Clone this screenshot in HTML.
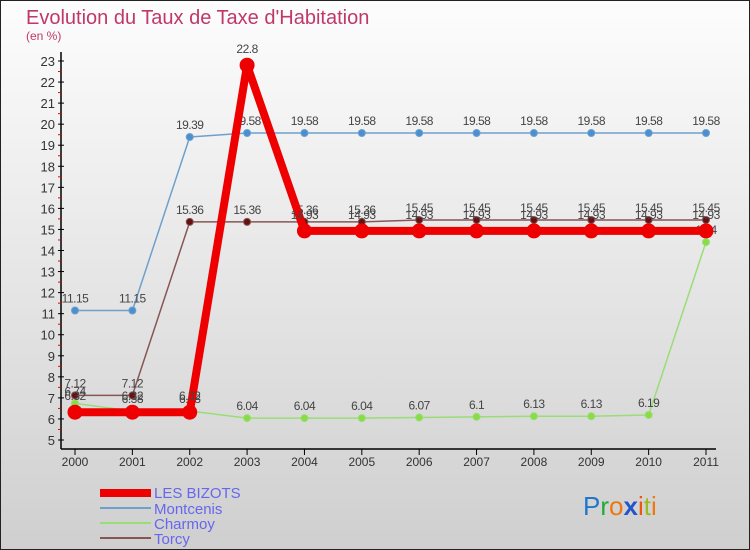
<!DOCTYPE html>
<html><head><meta charset="utf-8"><style>
body{margin:0;width:750px;height:550px;overflow:hidden}
svg{display:block;font-family:"Liberation Sans","DejaVu Sans",sans-serif}
</style></head><body>
<svg width="750" height="550" xmlns="http://www.w3.org/2000/svg">
<defs><linearGradient id="bg" x1="0" y1="0" x2="0" y2="1"><stop offset="0" stop-color="#fdfdfd"/><stop offset="1" stop-color="#cfcfcf"/></linearGradient></defs>
<rect x="0.5" y="0.5" width="749" height="549" fill="url(#bg)" stroke="#222"/>
<text x="26" y="24" font-size="20" fill="#c0386a">Evolution du Taux de Taxe d'Habitation</text>
<text x="26" y="40" font-size="12" fill="#c0386a">(en %)</text>
<g id="axes"></g>
<g id="series"></g>
<g>
<rect x="100" y="489" width="51" height="8" fill="#e00"/>
<text x="154" y="498" font-size="15" fill="#6666ee">LES BIZOTS</text>
<line x1="100" y1="508" x2="151" y2="508" stroke="#6fa0cc" stroke-width="2"/>
<text x="154" y="514" font-size="15" fill="#6666ee">Montcenis</text>
<line x1="100" y1="523" x2="151" y2="523" stroke="#99dd77" stroke-width="2"/>
<text x="154" y="529" font-size="15" fill="#6666ee">Charmoy</text>
<line x1="100" y1="538" x2="151" y2="538" stroke="#885555" stroke-width="2"/>
<text x="154" y="544" font-size="15" fill="#6666ee">Torcy</text>
</g>
<text x="583" y="515" font-size="26"><tspan fill="#2277cc">P</tspan><tspan fill="#22aa33">r</tspan><tspan fill="#ee7711">o</tspan><tspan fill="#2255cc" font-weight="bold">x</tspan><tspan fill="#ee5511">i</tspan><tspan fill="#99bb22">t</tspan><tspan fill="#ee7711">i</tspan></text>
</svg>
<script>
const years=[2000,2001,2002,2003,2004,2005,2006,2007,2008,2009,2010,2011];
const yTicks=[5,6,7,8,9,10,11,12,13,14,15,16,17,18,19,20,21,22,23];
const bizots=[6.32,6.32,6.32,22.8,14.93,14.93,14.93,14.93,14.93,14.93,14.93,14.93];
const montcenis=[11.15,11.15,19.39,19.58,19.58,19.58,19.58,19.58,19.58,19.58,19.58,19.58];
const charmoy=[6.74,6.38,6.38,6.04,6.04,6.04,6.07,6.1,6.13,6.13,6.19,14.4];
const torcy=[7.12,7.12,15.36,15.36,15.36,15.36,15.45,15.45,15.45,15.45,15.45,15.45];
const NS="http://www.w3.org/2000/svg";
const x=i=>75+i*(706-75)/(years.length-1);
const y=v=>440-(v-5)*(440-61)/18;
function mk(p,t,a){const e=document.createElementNS(NS,t);for(const k in a)e.setAttribute(k,a[k]);p.appendChild(e);return e;}
const ax=document.getElementById('axes');
mk(ax,'line',{x1:61,y1:52,x2:61,y2:449,stroke:'#000','stroke-width':1.5});
mk(ax,'line',{x1:61,y1:449,x2:716,y2:449,stroke:'#000','stroke-width':1.5});
yTicks.forEach(v=>{
 mk(ax,'line',{x1:58,y1:y(v),x2:64,y2:y(v),stroke:'#000'});
 if(v<23)mk(ax,'line',{x1:58,y1:y(v+0.5),x2:61,y2:y(v+0.5),stroke:'#e00'});
 const t=mk(ax,'text',{x:55,y:y(v)+5,'font-size':13,'text-anchor':'end',fill:'#333'});t.textContent=v;
 
 
});
years.forEach((yr,i)=>{
 mk(ax,'line',{x1:x(i),y1:449,x2:x(i),y2:455,stroke:'#000'});
 const t=mk(ax,'text',{x:x(i),y:466,'font-size':12,'text-anchor':'middle',fill:'#333'});t.textContent=yr;
 
 
});
const sg=document.getElementById('series');
function series(name,vals,color,w,r,dot,labDy){
 const g=mk(sg,'g',{});
 
 
 mk(g,'polyline',{points:vals.map((v,i)=>x(i)+','+y(v)).join(' '),fill:'none',stroke:color,'stroke-width':w,'stroke-linejoin':'round'});
 vals.forEach((v,i)=>{
  const c=mk(g,'circle',{cx:x(i),cy:y(v),r:r,fill:dot,stroke:color,'stroke-width':1});
  
  
  const t=mk(g,'text',{x:x(i),y:y(v)+labDy,'font-size':12,'text-anchor':'middle',fill:'#444','letter-spacing':'-0.5'});t.textContent=v;
  
  
 });
}
series('montcenis',montcenis,'#6fa0cc',1.5,3.5,'#4a8fd0',-8);
series('charmoy',charmoy,'#99dd77',1.5,3.5,'#88dd44',-8);
series('torcy',torcy,'#885555',1.5,3.5,'#661111',-8);
series('les-bizots',bizots,'#ee0000',8,7,'#ee0000',-12);
</script>
</body></html>
